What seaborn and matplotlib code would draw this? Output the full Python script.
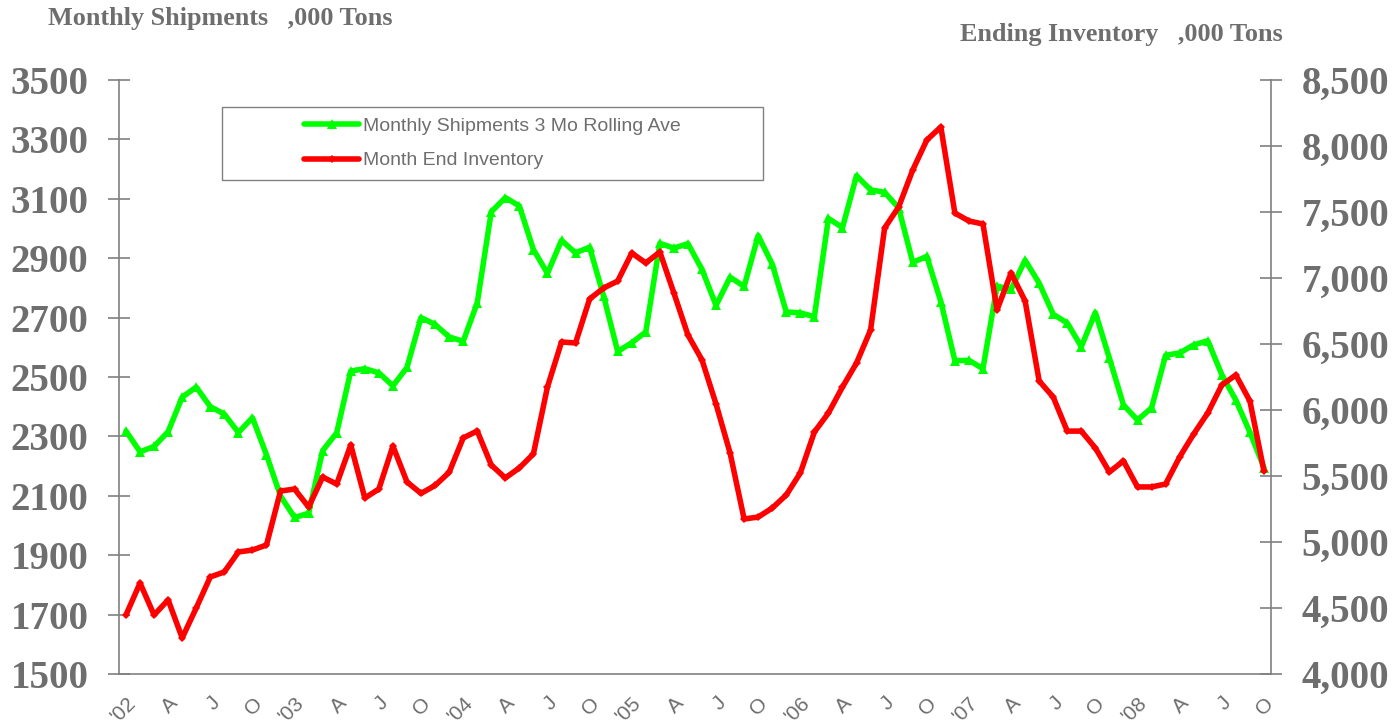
import matplotlib
matplotlib.use("Agg")
import matplotlib.pyplot as plt
import seaborn as sns
import pandas as pd
from matplotlib.patches import Rectangle
from matplotlib.ticker import FuncFormatter, FixedLocator

# monthly data, Jan 2002 - Oct 2008
shipments_3mo = [
    2318, 2248, 2266, 2316, 2432, 2466, 2400, 2375, 2313, 2363, 2238, 2099,
    2027, 2041, 2252, 2312, 2520, 2528, 2514, 2470, 2532, 2700, 2677, 2635,
    2620, 2749, 3056, 3104, 3076, 2929, 2849, 2960, 2918, 2937, 2772, 2586,
    2615, 2652, 2950, 2934, 2949, 2862, 2741, 2836, 2805, 2976, 2880, 2719,
    2716, 2703, 3034, 3003, 3178, 3130, 3122, 3069, 2886, 2906, 2754, 2555,
    2556, 2528, 2806, 2795, 2893, 2816, 2711, 2682, 2602, 2717, 2563, 2406,
    2355, 2396, 2573, 2581, 2608, 2622, 2508, 2422, 2314, 2195,
]
inventory = [
    4447, 4689, 4447, 4561, 4273, 4500, 4735, 4773, 4924, 4939, 4977, 5386,
    5401, 5265, 5492, 5439, 5735, 5333, 5401, 5727, 5455, 5368, 5428, 5527,
    5788, 5841, 5583, 5485, 5561, 5667, 6174, 6515, 6508, 6841, 6924, 6977,
    7189, 7114, 7197, 6886, 6568, 6379, 6045, 5674, 5174, 5189, 5257, 5356,
    5523, 5833, 5977, 6174, 6356, 6606, 7379, 7538, 7818, 8045, 8144, 7492,
    7432, 7409, 6758, 7038, 6826, 6220, 6098, 5840, 5840, 5712, 5530, 5614,
    5417, 5417, 5439, 5644, 5818, 5977, 6189, 6265, 6068, 5538,
]
quarter_labels = [
    "'02", "A", "J", "O", "'03", "A", "J", "O", "'04", "A", "J", "O",
    "'05", "A", "J", "O", "'06", "A", "J", "O", "'07", "A", "J", "O",
    "'08", "A", "J", "O",
]
left_ticks = [1500, 1700, 1900, 2100, 2300, 2500, 2700, 2900, 3100, 3300, 3500]
right_ticks = [4000, 4500, 5000, 5500, 6000, 6500, 7000, 7500, 8000, 8500]

df = pd.DataFrame({"month": range(len(inventory)),
                   "shipments": shipments_3mo,
                   "inventory": inventory})

sns.set_style("white")
plt.rcParams["font.family"] = ["Liberation Sans", "DejaVu Sans"]

GREY = "#808080"
TXT = "#6e6e6e"

fig = plt.figure(figsize=(13.93, 7.24), dpi=100)
ax = fig.add_axes([0.0854, 0.0691, 0.8270, 0.8204])
ax2 = ax.twinx()

sns.lineplot(data=df, x="month", y="shipments", ax=ax, color="#00ff00",
             linewidth=4.0, marker="^", markersize=6.5, markeredgewidth=0,
             label="Monthly Shipments 3 Mo Rolling Ave", legend=False)
sns.lineplot(data=df, x="month", y="inventory", ax=ax2, color="#ff0000",
             linewidth=4.0, marker="D", markersize=4.5, markeredgewidth=0,
             label="Month End Inventory", legend=False)

n = len(inventory)
ax.set_xlim(-0.5, n - 0.5)
ax.set_ylim(left_ticks[0], left_ticks[-1])
ax2.set_ylim(right_ticks[0], right_ticks[-1])

ax.yaxis.set_major_locator(FixedLocator(left_ticks))
ax2.yaxis.set_major_locator(FixedLocator(right_ticks))
ax2.yaxis.set_major_formatter(FuncFormatter(lambda v, p: f"{v:,.0f}"))

ax.xaxis.set_major_locator(FixedLocator(list(range(0, n, 3))))
ax.set_xticklabels(quarter_labels)
ax.xaxis.set_minor_locator(FixedLocator([k - 0.5 for k in range(n + 1)]))

for a in (ax, ax2):
    a.set_xlabel("")
    a.set_ylabel("")
    a.spines["top"].set_visible(False)
    for s in ("left", "right", "bottom"):
        a.spines[s].set_color(GREY)
        a.spines[s].set_linewidth(1.2)

ax.spines["right"].set_visible(False)
ax2.spines["left"].set_visible(False)
ax2.spines["bottom"].set_visible(False)

serif = ["Liberation Serif", "DejaVu Serif"]
ax.tick_params(axis="y", direction="inout", length=16, width=1.2, color=GREY,
               pad=14, labelcolor=TXT, labelsize=28)
ax2.tick_params(axis="y", direction="inout", length=16, width=1.2, color=GREY,
                pad=14, labelcolor=TXT, labelsize=28)
for lab in ax.get_yticklabels() + ax2.get_yticklabels():
    lab.set_family(serif)
    lab.set_weight("bold")

ax.tick_params(axis="x", which="major", length=0, pad=14, labelcolor=TXT,
               labelsize=15)
ax.tick_params(axis="x", which="minor", direction="inout", length=8.5,
               width=1.2, color=GREY)
for lab in ax.get_xticklabels():
    lab.set_rotation(45)
    lab.set_ha("right")
    lab.set_rotation_mode("anchor")

fig.text(48 / 1393, 1 - 18 / 724, "Monthly Shipments   ,000 Tons",
         fontsize=18.8, color=TXT, va="center", ha="left",
         family=serif, weight="bold")
fig.text(1283 / 1393, 1 - 35 / 724, "Ending Inventory   ,000 Tons",
         fontsize=18.8, color=TXT, va="center", ha="right",
         family=serif, weight="bold")

# legend box drawn by hand so the entries sit centered inside it
bx, by, bw, bh = 0.0894, 0.8316, 0.4696, 0.1229
box = Rectangle((bx, by), bw, bh, transform=ax2.transAxes,
                facecolor="white", edgecolor=GREY, linewidth=1.0, zorder=5)
ax2.add_patch(box)
h1, l1 = ax.get_legend_handles_labels()
h2, l2 = ax2.get_legend_handles_labels()
leg = ax2.legend(h1 + h2, l1 + l2, loc="center",
                 bbox_to_anchor=(bx + bw / 2, by + bh / 2),
                 frameon=False, fontsize=14, handlelength=2.8,
                 handletextpad=0.2, labelspacing=0.85, borderpad=0)
leg.set_zorder(6)
for t in leg.get_texts():
    t.set_color(TXT)

fig.savefig("out.png", dpi=100)
